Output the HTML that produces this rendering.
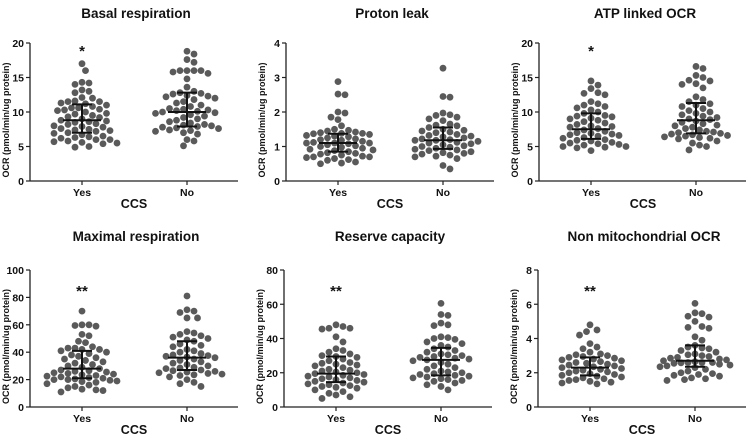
<!DOCTYPE html>
<html><head><meta charset="utf-8"><style>
body{margin:0;background:#fff;}
svg{display:block;font-family:"Liberation Sans",Arial,sans-serif;}
</style></head><body>
<svg id="c" width="746" height="436" viewBox="0 0 746 436"></svg>
<script>
const categories=["Yes","No"];
const titles=["Basal  respiration","Proton leak","ATP linked OCR","Maximal respiration","Reserve capacity","Non mitochondrial OCR"];
const yMaxes=[20,4,20,100,80,8];
const yTicks=[[0,5,10,15,20],[0,1,2,3,4],[0,5,10,15,20],[0,20,40,60,80,100],[0,20,40,60,80],[0,2,4,6,8]];
const stars=["*","","*","**","**","**"];
const basalYes=[17,16,14.3,14.2,14,13.2,13,12.8,12.1,12,11.6,11.5,11.5,11.3,11.2,11,10.8,10.6,10.6,10.4,10.3,10.2,10,9.8,9.7,9.5,9.3,9.2,9,8.8,8.7,8.6,8.5,8.3,8.2,8,7.9,7.8,7.6,7.5,7.4,7.3,7.2,7,6.9,6.7,6.5,6.4,6.3,6.2,6,6,5.8,5.7,5.6,5.5,5.4,5,4.9];
const basalNo=[18.8,18.4,17.6,17.2,16,16,16,15.8,15.6,16,14.8,13.6,13,12.8,12.7,12.6,12.4,12.3,12.2,12,11.8,11.5,11.3,11,10.8,10.5,10.4,10.3,10.2,10.1,10,9.9,9.8,9.6,9.4,9.2,9,8.8,8.6,8.4,8.2,8.1,8,7.9,7.8,7.7,7.6,7.4,7.3,7.2,7,6.8,6,5.8,5.1];
const protonYes=[2.88,2.52,2.5,2,1.97,1.85,1.78,1.6,1.5,1.47,1.45,1.42,1.4,1.38,1.38,1.37,1.35,1.32,1.3,1.28,1.25,1.22,1.2,1.18,1.15,1.12,1.1,1.1,1.1,1.08,1.05,1.02,1,0.98,0.95,0.92,0.9,0.88,0.85,0.82,0.8,0.78,0.75,0.72,0.7,0.7,0.68,0.65,0.62,0.6,0.55,0.52,0.5];
const protonNo=[3.27,2.45,2.43,1.97,1.92,1.9,1.85,1.8,1.75,1.65,1.62,1.6,1.55,1.5,1.47,1.45,1.42,1.4,1.35,1.32,1.3,1.28,1.25,1.22,1.2,1.18,1.18,1.15,1.12,1.1,1.08,1.05,1.02,1,0.98,0.95,0.92,0.9,0.88,0.85,0.82,0.8,0.78,0.75,0.72,0.7,0.65,0.45,0.35];
const atpYes=[14.5,13.9,13.4,12.8,12.7,12.5,11.5,11.2,11,10.8,10.6,10.3,10,9.8,9.5,9.4,9.3,9.1,9,8.8,8.6,8.4,8.2,8,7.9,7.8,7.6,7.4,7.2,7,6.9,6.8,6.7,6.6,6.5,6.3,6.2,6,5.9,5.8,5.6,5.5,5.4,5.3,5.2,5,5,4.9,4.8,4.4];
const atpNo=[16.6,16.3,15.3,15,14.6,14.5,14.1,14,13.5,12.2,11.8,11.5,11.2,11,10.8,10.5,10.2,10,9.8,9.6,9.4,9.2,9,8.9,8.7,8.5,8.3,8.1,8,7.8,7.6,7.4,7.2,7.1,7,6.9,6.8,6.7,6.6,6.5,6.4,6.3,6.2,6.1,5.8,5.5,5.2,5,4.5];
const maxYes=[70,60,59.5,59,60,53,52,48,47,44,43,43,42,42,41,40,39,38,37,36,35,34,33,32,31,30,29,28,27,26.5,26,25.5,25,24.5,24,23.5,23,22.5,22,21.5,21,20.5,20,20,19.5,19,18.5,18,17,16,15,14,13,12.5,12,11];
const maxNo=[81,71,70,69,65,65,55,54,53,52,51,50,49,48,46,45,44,42,41,40,39,38,37.5,37,36.5,36,35,34,33,32,31,30,29,28.5,28,27,26.5,26,25.5,25,24.5,24,23.5,23,22,20,18,17,15];
const resYes=[48,47,46,46,45.5,41,38,34,33,32,31,30,29.5,29,28,27,26,25.5,25,24.5,24,23,22,21.5,21,20.5,20,19.5,19,18.5,18,17.5,17,16.5,16,15.5,15,14.5,14,13.5,13,12.5,12,11.5,11,10,9,8,7,6,5];
const resNo=[60.5,54,53.5,49,48,47.5,41,40.5,40,39.5,38,37,36,35,34,33,32,31,30.5,30,29.5,29,28.5,28,27.5,27,26,25,24,23,22,21,20.5,20,19.5,19,18.5,18,17.5,17,16.5,16,15.5,15,14,13,12,10];
const nonYes=[4.8,4.5,4.4,4.2,3.7,3.5,3.4,3.2,3.1,3.05,3,2.95,2.9,2.85,2.8,2.75,2.7,2.65,2.6,2.55,2.5,2.45,2.4,2.35,2.3,2.25,2.2,2.15,2.1,2.05,2,1.95,1.9,1.85,1.8,1.75,1.7,1.65,1.6,1.55,1.5,1.45,1.4,1.35];
const nonNo=[6.05,5.5,5.45,5.3,5.25,5,4.7,4.65,4.6,4.1,3.9,3.6,3.5,3.45,3.4,3.3,3.2,3.1,3.05,3,2.95,2.9,2.85,2.8,2.75,2.7,2.65,2.6,2.6,2.6,2.58,2.55,2.5,2.45,2.4,2.35,2.3,2.2,2.1,2,1.95,1.9,1.85,1.8,1.7,1.65,1.6,1.55];
const series=[[basalYes,basalNo],[protonYes,protonNo],[atpYes,atpNo],[maxYes,maxNo],[resYes,resNo],[nonYes,nonNo]];
const medians=[[8.8,10.0],[1.1,1.18],[7.5,8.8],[28,36],[19.5,27.5],[2.3,2.7]];
const q1s=[[7.0,7.9],[0.85,0.93],[6.1,6.9],[21,27],[14.5,18.5],[1.85,2.35]];
const q3s=[[11.1,12.8],[1.37,1.55],[9.8,11.3],[41,48],[29.5,34.5],[2.9,3.6]];

const NS="http://www.w3.org/2000/svg";
const svg=document.getElementById('c');
function mk(tag,attrs,parent,text){const e=document.createElementNS(NS,tag);for(const k in attrs)e.setAttribute(k,attrs[k]);if(text!==undefined)e.textContent=text;(parent||svg).appendChild(e);return e;}
const axX=[30,286,539,30,284,538];
for(let p=0;p<6;p++){
  const row=p<3?0:1;
  const ax=axX[p], yTop=row?270:43, yBot=row?407:181;
  const ys=v=>yBot-(v/yMaxes[p])*(yBot-yTop);
  const xs=i=>ax+52+i*105;
  const g=mk('g',{});
  
  
  const t=mk('text',{x:ax+106,y:row?241:18,'text-anchor':'middle','font-size':13.5,'font-weight':'bold',fill:'#111'},g,titles[p]);
  
  
  const yl=mk('line',{x1:ax,y1:yTop,x2:ax,y2:yBot,stroke:'#222','stroke-width':1.3},g);
  
  
  const xl=mk('line',{x1:ax,y1:yBot,x2:ax+208,y2:yBot,stroke:'#222','stroke-width':1.3},g);
  
  
  yTicks[p].forEach(v=>{
    mk('line',{x1:ax-4,y1:ys(v),x2:ax,y2:ys(v),stroke:'#222','stroke-width':1.2},g);
    const tl=mk('text',{x:ax-6,y:ys(v)+4,'text-anchor':'end','font-size':10.5,'font-weight':'bold',fill:'#111'},g,String(v));
    
    
  });
  const yt=mk('text',{x:0,y:0,transform:`translate(${ax-21},${(yTop+yBot)/2+8}) rotate(-90)`,'text-anchor':'middle','font-size':9,'font-weight':'bold',fill:'#111'},g,'OCR (pmol/min/ug protein)');
  
  
  const xt=mk('text',{x:ax+104,y:yBot+27,'text-anchor':'middle','font-size':12.5,'font-weight':'bold',fill:'#111'},g,'CCS');
  
  
  categories.forEach((c,i)=>{
    mk('line',{x1:xs(i),y1:yBot,x2:xs(i),y2:yBot+4,stroke:'#222','stroke-width':1.2},g);
    const cl=mk('text',{x:xs(i),y:yBot+15,'text-anchor':'middle','font-size':10.5,'font-weight':'bold',fill:'#111'},g,c);
    
    
    const vals=series[p][i].slice().sort((a,b)=>b-a);
    const placed=[];const d=7;const maxOff=38;
    vals.forEach(v=>{
      const y=ys(v);let best=null,bestD=-1;
      for(let k=0;k<40;k++){
        const off=(k===0?0:(k%2?1:-1)*Math.ceil(k/2))*d*0.5;
        if(Math.abs(off)>maxOff)break;
        const cx=xs(i)+off;
        let md=Infinity;placed.forEach(q=>{md=Math.min(md,Math.hypot(q[0]-cx,q[1]-y));});
        if(md>=d){best=cx;break;}
        if(md>bestD+0.5){bestD=md;best=cx;}
      }
      placed.push([best,y]);
      const dot=mk('circle',{cx:best,cy:y,r:3.4,fill:'#5a5a5a'},g);
      
      
    });
    const m=ys(medians[p][i]),a=ys(q1s[p][i]),b=ys(q3s[p][i]),cx=xs(i);
    const eb=mk('path',{d:`M${cx-19},${m}H${cx+19}M${cx},${a}V${b}M${cx-10},${a}H${cx+10}M${cx-10},${b}H${cx+10}`,stroke:'#111','stroke-width':2,fill:'none'},g);
    
    
  });
  if(stars[p]){
    const s=mk('text',{x:xs(0),y:row?296:56,'text-anchor':'middle','font-size':15,'font-weight':'bold',fill:'#111'},g,stars[p]);
    
    
  }
}
</script>
</body></html>
